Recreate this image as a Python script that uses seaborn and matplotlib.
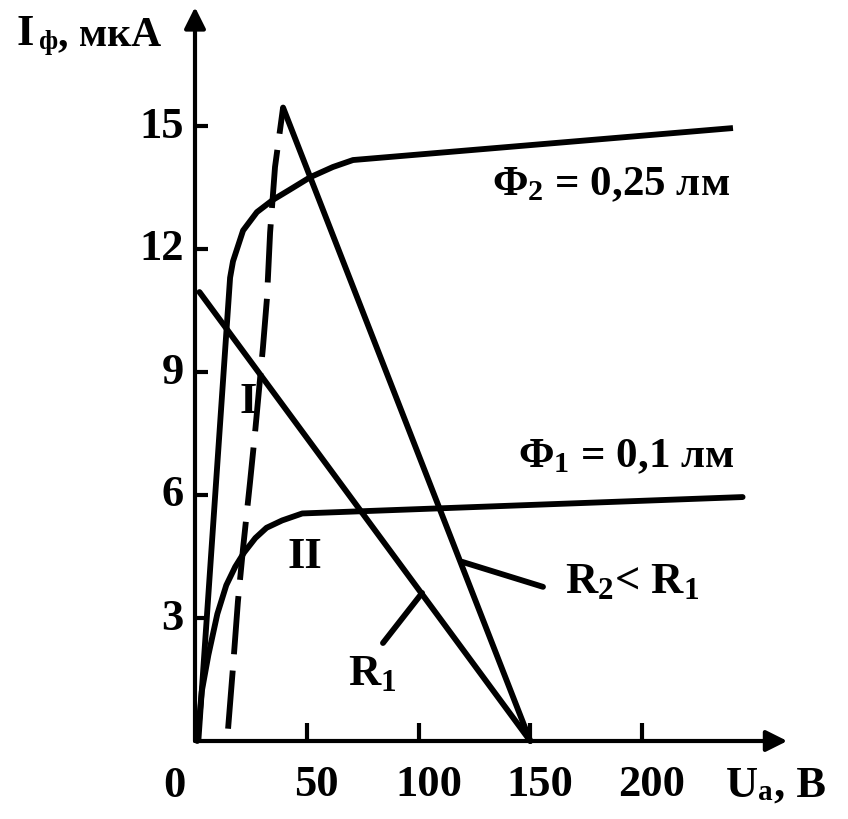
import numpy as np
import pandas as pd
import matplotlib
matplotlib.use("Agg")
import matplotlib.pyplot as plt
from matplotlib.transforms import ScaledTranslation
import seaborn as sns

# ---- data ----
phi2_u = [1.5, 15.7, 17.0, 21.5, 27.7, 34.9, 42.5, 51.5, 61.7, 70.7, 240.7]
phi2_i = [0.0, 11.3, 11.7, 12.45, 12.9, 13.2, 13.45, 13.75, 14.0, 14.17, 14.95]

phi1_u = [1.0, 3.0, 6.0, 10.0, 14.0, 18.0, 22.0, 27.0, 32.0, 39.0, 48.0, 245.0]
phi1_i = [0.0, 1.2, 2.1, 3.1, 3.8, 4.25, 4.6, 4.95, 5.2, 5.38, 5.55, 5.95]

dash_u = [14.8, 17.0, 19.2, 21.5, 24.6, 27.0, 30.4, 32.2, 33.6, 35.8, 39.4]
dash_i = [0.3, 1.8, 3.4, 4.7, 6.3, 7.6, 9.6, 10.8, 12.4, 14.0, 15.45]

r1_u = [2.0, 150.0]
r1_i = [10.95, 0.0]
r2_u = [39.4, 150.0]
r2_i = [15.45, 0.0]

r1_ptr_u = [84.1, 101.6]
r1_ptr_i = [2.39, 3.61]
r2_ptr_u = [119.5, 155.7]
r2_ptr_i = [4.37, 3.76]

x_ticks = [50, 100, 150, 200]
y_ticks = [3, 6, 9, 12, 15]

# ---- style ----
sns.set_theme(style="white")
plt.rcParams["font.family"] = ["Liberation Serif", "DejaVu Serif"]
plt.rcParams["font.weight"] = "bold"
plt.rcParams["text.color"] = "black"
plt.rcParams["axes.labelcolor"] = "black"
plt.rcParams["xtick.color"] = "black"
plt.rcParams["ytick.color"] = "black"
plt.rcParams["xtick.labelcolor"] = "black"
plt.rcParams["ytick.labelcolor"] = "black"
plt.rcParams["mathtext.fontset"] = "custom"
plt.rcParams["mathtext.rm"] = "Liberation Serif:bold"
plt.rcParams["mathtext.it"] = "Liberation Serif:bold"
plt.rcParams["mathtext.bf"] = "Liberation Serif:bold"

W, H = 848, 819
fig = plt.figure(figsize=(W / 100, H / 100), dpi=100)
ax = fig.add_axes([195 / W, 78 / H, 592.3 / W, 733.9 / H])
ax.set_xlim(0, 265)
ax.set_ylim(0, 17.9)
ax.patch.set_alpha(0)
for s in ax.spines.values():
    s.set_visible(False)

LW = 4.2
def curve(u, i, **kw):
    df = pd.DataFrame({"u": u, "i": i})
    sns.lineplot(data=df, x="u", y="i", ax=ax, color="black", lw=LW,
                 sort=False, estimator=None, clip_on=False, **kw)

curve(phi2_u, phi2_i, solid_capstyle="butt", solid_joinstyle="round")
curve(phi1_u, phi1_i, solid_joinstyle="round")
curve(dash_u, dash_i, linestyle=(0, (10, 2.8)), dash_capstyle="butt")
curve(r1_u, r1_i)
curve(r2_u, r2_i, solid_joinstyle="miter")
curve(r1_ptr_u, r1_ptr_i)
curve(r2_ptr_u, r2_ptr_i)

# axes with arrows
arrow = dict(arrowstyle="-|>", lw=3, color="black", mutation_scale=32,
             shrinkA=0, shrinkB=0)
ax.annotate("", xy=(1, 0), xytext=(0, 0), xycoords="axes fraction",
            textcoords="axes fraction", arrowprops=arrow, annotation_clip=False)
ax.annotate("", xy=(0, 1), xytext=(0, 0), xycoords="axes fraction",
            textcoords="axes fraction", arrowprops=arrow, annotation_clip=False)

FS = 32
ax.set_xticks(x_ticks)
ax.set_yticks(y_ticks)
ax.set_xticklabels([str(v) for v in x_ticks], fontsize=FS, fontweight="bold",
                   color="black")
ax.set_yticklabels([str(v) for v in y_ticks], fontsize=FS, fontweight="bold",
                   color="black")
ax.tick_params(axis="x", direction="in", length=13, width=3, color="black",
               pad=17, bottom=True)
ax.tick_params(axis="y", direction="in", length=9, width=3, color="black",
               pad=8, left=True)
for lab in ax.get_xticklabels():
    lab.set_transform(lab.get_transform() + ScaledTranslation(0.10, 0, fig.dpi_scale_trans))
for lab in ax.get_yticklabels():
    lab.set_transform(lab.get_transform() + ScaledTranslation(0, 0.04, fig.dpi_scale_trans))
ax.set_xlabel("")
ax.set_ylabel("")
ax.grid(False)

def ftext(px, py, s, **kw):
    fig.text(px / W, 1 - py / H, s, va="baseline", ha="left",
             fontweight="bold", color="black", **kw)

# origin label and axis titles
ftext(163, 797, "0", fontsize=FS)
ftext(726, 797, "U", fontsize=FS)
ftext(758, 800, "a", fontsize=21)
ftext(774, 797, ", B", fontsize=FS)
ftext(17, 45, "I", fontsize=FS)
ftext(39, 49, "ф", fontsize=20)
ftext(58, 45, ", мкА", fontsize=30)

# annotations inside the plot
def dtext(u, i, s, fs=FS):
    ax.text(u, i, s, fontsize=fs, fontweight="bold", va="baseline",
            ha="left", color="black")

dtext(132.9, 13.3, r"Φ$_\mathrm{2}$ = 0,25 лм", fs=31)
dtext(144.5, 6.68, r"Φ$_\mathrm{1}$ = 0,1 лм", fs=31)
dtext(165.5, 3.61, r"R$_\mathrm{2}$< R$_\mathrm{1}$")
dtext(68.5, 1.37, r"R$_\mathrm{1}$")
dtext(41.2, 4.22, "II")
dtext(20.1, 8.0, "I")

fig.savefig("out.png", dpi=100, facecolor="white")
